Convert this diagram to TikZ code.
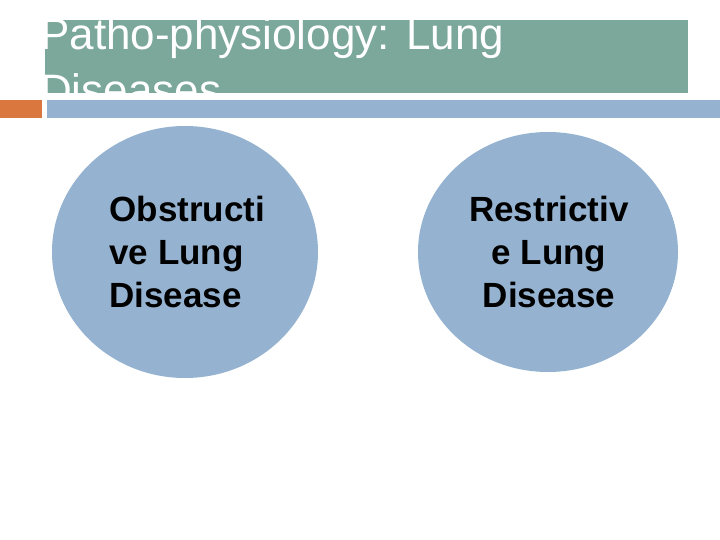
\documentclass[tikz,border=0pt]{standalone}
\usepackage{fontspec}
\usetikzlibrary{shapes.geometric}
\setmainfont{Liberation Sans}
\begin{document}
\begin{tikzpicture}[x=1pt,y=-1pt,
  circ/.style={fill=blue1,draw=none},
  lbl/.style={font=\fontsize{35}{43}\selectfont\bfseries,text=black}]
\definecolor{green1}{HTML}{7BA89A}
\definecolor{blue1}{HTML}{95B3D0}
\definecolor{orange1}{HTML}{D9773E}
\useasboundingbox (0,0) rectangle (720,540);
\fill[white] (0,0) rectangle (720,540);
\fill[green1] (45,20) rectangle (688,93);
\begin{scope}
\clip (45,0) rectangle (720,93);
\node[anchor=north west,inner sep=0pt,text=white,align=left,font=\fontsize{44}{56}\selectfont] (title) at (40,17) {Patho-physiology: Lung\\Diseases};
\end{scope}
\fill[orange1] (0,100) rectangle (42,118);
\fill[blue1] (47,100) rectangle (720,118);
\node[circ,ellipse,minimum width=266,minimum height=252,inner sep=0pt] (c1) at (185,252) {};
\node[circ,ellipse,minimum width=260,minimum height=240,inner sep=0pt] (c2) at (548,252) {};
\node[lbl,align=left,anchor=west] (t1) at (106,252) {Obstructi\\ve Lung\\Disease};
\node[lbl,align=center] (t2) at (549,252) {Restrictiv\\e Lung\\Disease};
\end{tikzpicture}
\end{document}
